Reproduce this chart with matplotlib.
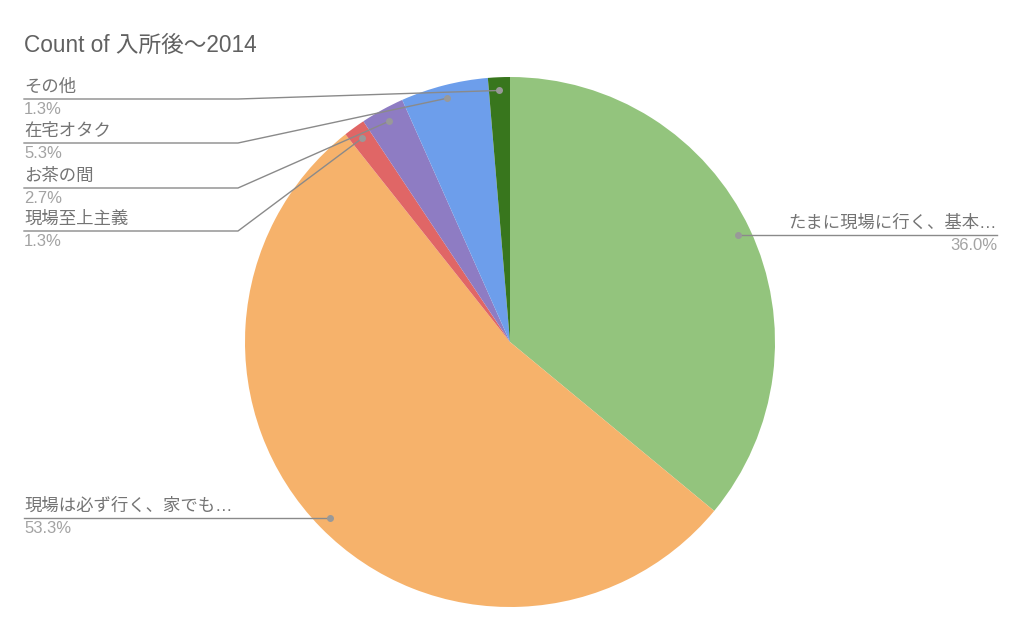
import numpy as np
import matplotlib.pyplot as plt

# 入所後〜2014 の回答数
labels = ["たまに現場に行く、基本…", "現場は必ず行く、家でも…", "現場至上主義",
          "お茶の間", "在宅オタク", "その他"]
counts = [27, 40, 1, 2, 4, 1]
colors = ["#93c47d", "#f6b26b", "#e06666", "#8e7cc3", "#6d9eeb", "#38761d"]

W, H = 1024, 632
fam = ["Liberation Sans", "Noto Sans CJK JP"]
plt.rcParams["font.family"] = fam

fig = plt.figure(figsize=(W / 100, H / 100), dpi=100)
ax = fig.add_axes([0, 0, 1, 1])

cx, cy, R = 510, H - 342, 265
wedges, _ = ax.pie(counts, colors=colors, startangle=90, counterclock=False,
                   center=(cx, cy), radius=R, wedgeprops=dict(linewidth=0),
                   frame=True)
ax.set_xlim(0, W)
ax.set_ylim(0, H)
ax.axis("off")

total = sum(counts)
line_c = "#8a8a8a"
name_c = "#747474"
pct_c = "#a3a3a3"


def anchor(w):
    a = np.deg2rad((w.theta1 + w.theta2) / 2)
    return cx + 0.95 * R * np.cos(a), cy + 0.95 * R * np.sin(a)


def label(i, x_text, y_line, ha, knee=None):
    px, py = anchor(wedges[i])
    if knee is None:
        ax.plot([px, x_text], [py, py], color=line_c, lw=1)
        y_line = py
    else:
        ax.plot([px, knee, x_text], [py, y_line, y_line], color=line_c, lw=1)
    ax.plot(px, py, "o", color="#999999", ms=4)
    ax.text(x_text, y_line + 4, labels[i], ha=ha, va="bottom", fontsize=12.5, color=name_c)
    ax.text(x_text, y_line - 3, f"{counts[i] / total * 100:.1f}%", ha=ha, va="top",
            fontsize=12, color=pct_c)


label(0, 997, None, "right")
label(1, 24, None, "left")
label(5, 24, H - 99, "left", knee=238)
label(4, 24, H - 143, "left", knee=238)
label(3, 24, H - 188, "left", knee=238)
label(2, 24, H - 231, "left", knee=238)

ax.text(24, H - 45, "Count of 入所後〜2014", ha="left", va="center", fontsize=16.3,
        color="#616161")

fig.savefig("out.png", dpi=100)
